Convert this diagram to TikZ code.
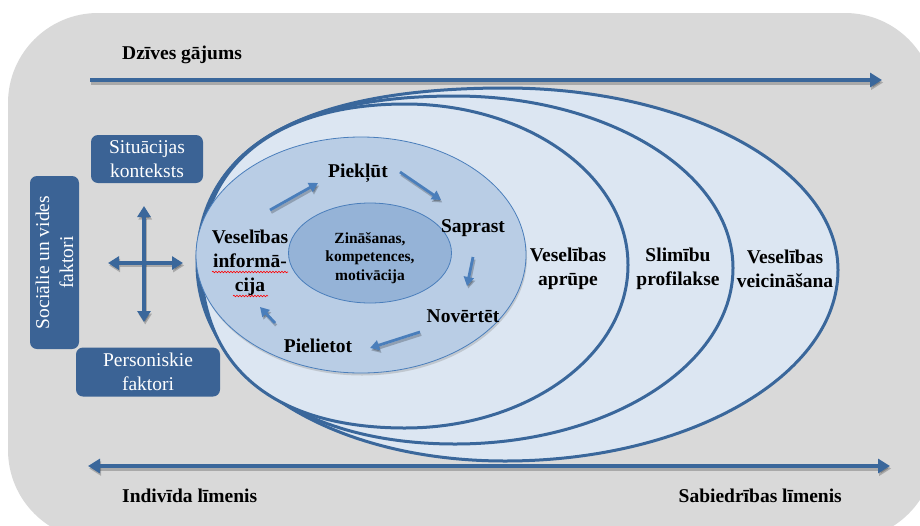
\documentclass[tikz,border=0pt]{standalone}
\usepackage{fontspec}
\setmainfont{Liberation Serif}
\usetikzlibrary{shapes.geometric,arrows.meta,decorations.pathmorphing,shadows}

\definecolor{bggray}{HTML}{D9D9D9}
\definecolor{ringfill}{HTML}{DCE6F2}
\definecolor{ringline}{HTML}{3A679B}
\definecolor{infofill}{HTML}{B9CDE5}
\definecolor{corefill}{HTML}{95B3D7}
\definecolor{boxblue}{HTML}{3B6395}
\definecolor{cyclearrow}{HTML}{4A7EBB}

\tikzset{
  ring/.style={draw=ringline, line width=3pt, fill=ringfill},
  lbl/.style={font=\fontsize{19.5}{24}\selectfont\bfseries, text=black, align=center, inner sep=0pt},
  corelbl/.style={font=\fontsize{15.5}{18.5}\selectfont\bfseries, text=black, align=center, inner sep=0pt},
  factorbox/.style={draw=none, fill=boxblue, rounded corners=7pt, text=white, align=center,
    font=\fontsize{19.5}{24}\selectfont, inner sep=0pt},
  bigarrow/.style={draw=ringline, line width=4pt, -{Triangle[length=12pt,width=14pt]}},
  bigarrowboth/.style={draw=ringline, line width=4pt, {Triangle[length=12pt,width=14pt]}-{Triangle[length=12pt,width=14pt]}},
  crossarrow/.style={draw=ringline, line width=3.5pt, {Triangle[length=11pt,width=13pt]}-{Triangle[length=11pt,width=13pt]}},
  cyclearr/.style={draw=cyclearrow, line width=2.8pt, -{Triangle[length=9pt,width=10pt]}},
  arrshadow/.style={draw=black, opacity=0.22, transform canvas={shift={(1.2pt,-2.5pt)}}},
  spell/.style={draw=red, line width=0.6pt, decorate,
    decoration={snake, amplitude=0.8pt, segment length=3pt}}
}

\begin{document}
\begin{tikzpicture}[x=1pt,y=-1pt]
  \useasboundingbox (0,0) rectangle (920,525);
  \clip (0,0) rectangle (920,525);
  \fill[white] (0,0) rectangle (920,525);

  % rounded grey panel
  \path[fill=bggray, rounded corners=90pt] (8,13) rectangle (935,540);

  % life course arrow
  \coordinate (lifeS) at (90,80);
  \coordinate (lifeE) at (882,80);
  \draw[bigarrow, arrshadow] (lifeS) -- (lifeE);
  \draw[bigarrow] (lifeS) -- (lifeE);
  \node[lbl, anchor=west] (life) at (122,55) {Dzīves gājums};

  % individual / society arrow
  \coordinate (levS) at (88,466);
  \coordinate (levE) at (890,466);
  \draw[bigarrowboth, arrshadow] (levS) -- (levE);
  \draw[bigarrowboth] (levS) -- (levE);
  \node[lbl, anchor=west] (indiv) at (122,496) {Indivīda līmenis};
  \node[lbl, anchor=east] (soc) at (842,496) {Sabiedrības līmenis};

  % nested rings, sharing their blunt left side
  \path[ring] (197,264)
     .. controls (197,147.8) and (301.7,88) .. (505,88)
     .. controls (688.8,88) and (838,169.5) .. (838,270)
     .. controls (838,375.4) and (688.8,461) .. (505,461)
     .. controls (329.4,461) and (197,376.3) .. cycle;
  \path[ring] (199,262)
     .. controls (199,154.1) and (288.6,96) .. (455,96)
     .. controls (608.5,96) and (733,173.1) .. (733,268)
     .. controls (733,365.2) and (608.5,444) .. (455,444)
     .. controls (301.4,444) and (199,371.2) .. cycle;
  \path[ring] (201,260)
     .. controls (201,163.3) and (278.5,104) .. (405,104)
     .. controls (528.1,104) and (628,176.1) .. (628,265)
     .. controls (628,355) and (528.1,428) .. (405,428)
     .. controls (274.4,428) and (201,367.5) .. cycle;

  \node[lbl] (promoT) at (785,269) {Veselības\\veicināšana};
  \node[lbl] (prevT) at (678,269) {Slimību\\profilakse};
  \node[lbl] (careT) at (568,269) {Veselības\\aprūpe};

  % health information ellipse and core
  \node[ellipse, draw=cyclearrow, line width=0.8pt, fill=infofill, inner sep=0pt,
        minimum width=330pt, minimum height=236pt,
        drop shadow={shadow xshift=1pt, shadow yshift=-2.5pt, opacity=0.3}] (info) at (361,255) {};
  \node[ellipse, draw=cyclearrow, line width=0.8pt, fill=corefill, inner sep=0pt,
        minimum width=163pt, minimum height=100pt] (core) at (370,253) {};
  \node[corelbl] (coreT) at (370,258) {Zināšanas,\\kompetences,\\motivācija};

  \node[lbl] (infoT) at (250,263) {Veselības\\informā-\\cija};
  \draw[spell] (212,272) -- (288,272);
  \draw[spell] (233,296) -- (268,296);

  \node[lbl] (access) at (358,173) {Piekļūt};
  \node[lbl] (understand) at (473,228) {Saprast};
  \node[lbl] (appraise) at (463,316) {Novērtēt};
  \node[lbl] (apply) at (318,346) {Pielietot};

  % cycle arrows
  \coordinate (c1s) at (270,210); \coordinate (c1e) at (318,183);
  \coordinate (c2s) at (400,172); \coordinate (c2e) at (441,200);
  \coordinate (c3s) at (473,257); \coordinate (c3e) at (467,286);
  \coordinate (c4s) at (420,332); \coordinate (c4e) at (370,348);
  \coordinate (c5s) at (275,323); \coordinate (c5e) at (260,307);
  \foreach \a in {1,...,5}{
    \draw[cyclearr, arrshadow] (c\a s) -- (c\a e);
    \draw[cyclearr] (c\a s) -- (c\a e);
  }

  % factor boxes
  \node[factorbox, minimum width=112pt, minimum height=48pt] (situ) at (147,159) {Situācijas\\konteksts};
  \node[factorbox, minimum width=144pt, minimum height=49pt] (pers) at (148,372) {Personiskie\\faktori};
  \node[factorbox, rotate=90, minimum width=173pt, minimum height=49pt] (envir) at (54.5,262.5) {Sociālie un vides\\faktori};

  % cross of interactions
  \coordinate (crT) at (144,206);
  \coordinate (crB) at (144,322);
  \coordinate (crL) at (108,263);
  \coordinate (crR) at (183,263);
  \draw[crossarrow, arrshadow] (crT) -- (crB);
  \draw[crossarrow, arrshadow] (crL) -- (crR);
  \draw[crossarrow] (crT) -- (crB);
  \draw[crossarrow] (crL) -- (crR);
\end{tikzpicture}
\end{document}
